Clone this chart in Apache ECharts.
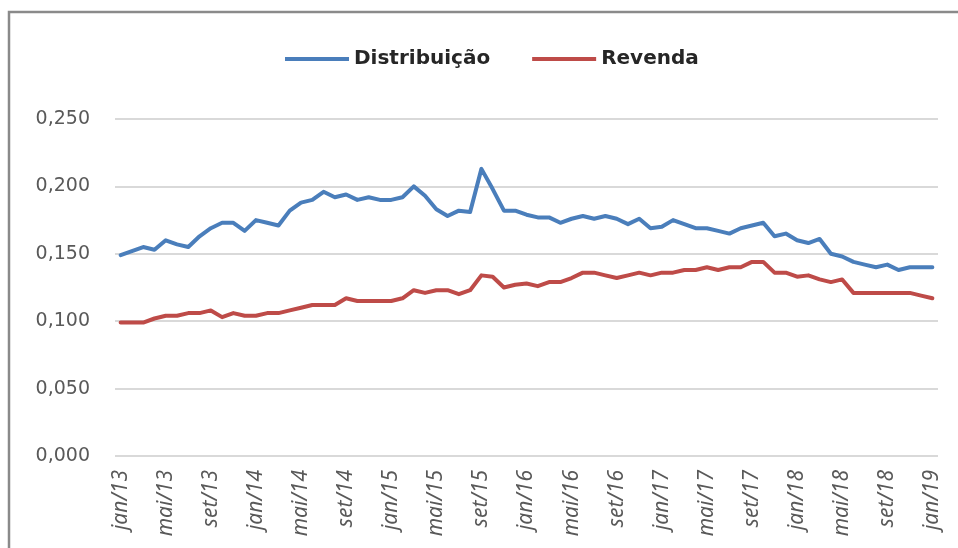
<!DOCTYPE html>
<html>
<head>
<meta charset="utf-8">
<script src="https://cdn.jsdelivr.net/npm/echarts@6/dist/echarts.min.js"></script>
<style>
html,body{margin:0;padding:0;background:#fff;}
#chart{width:958px;height:548px;}
</style>
</head>
<body>
<div id="chart"></div>
<script>
var monthNames = ['jan','fev','mar','abr','mai','jun','jul','ago','set','out','nov','dez'];
var years = ['13','14','15','16','17','18','19'];
var categories = [];
for (var y = 0; y < years.length; y++) {
  for (var m = 0; m < 12; m++) {
    categories.push(monthNames[m] + '/' + years[y]);
    if (y === years.length - 1) break;
  }
}

var distribuicao = [
  0.149, 0.152, 0.155, 0.153, 0.160, 0.157, 0.155, 0.163, 0.169, 0.173, 0.173, 0.167,
  0.175, 0.173, 0.171, 0.182, 0.188, 0.190, 0.196, 0.192, 0.194, 0.190, 0.192, 0.190,
  0.190, 0.192, 0.200, 0.193, 0.183, 0.178, 0.182, 0.181, 0.213, 0.198, 0.182, 0.182,
  0.179, 0.177, 0.177, 0.173, 0.176, 0.178, 0.176, 0.178, 0.176, 0.172, 0.176, 0.169,
  0.170, 0.175, 0.172, 0.169, 0.169, 0.167, 0.165, 0.169, 0.171, 0.173, 0.163, 0.165,
  0.160, 0.158, 0.161, 0.150, 0.148, 0.144, 0.142, 0.140, 0.142, 0.138, 0.140, 0.140,
  0.140
];

var revenda = [
  0.099, 0.099, 0.099, 0.102, 0.104, 0.104, 0.106, 0.106, 0.108, 0.103, 0.106, 0.104,
  0.104, 0.106, 0.106, 0.108, 0.110, 0.112, 0.112, 0.112, 0.117, 0.115, 0.115, 0.115,
  0.115, 0.117, 0.123, 0.121, 0.123, 0.123, 0.120, 0.123, 0.134, 0.133, 0.125, 0.127,
  0.128, 0.126, 0.129, 0.129, 0.132, 0.136, 0.136, 0.134, 0.132, 0.134, 0.136, 0.134,
  0.136, 0.136, 0.138, 0.138, 0.140, 0.138, 0.140, 0.140, 0.144, 0.144, 0.136, 0.136,
  0.133, 0.134, 0.131, 0.129, 0.131, 0.121, 0.121, 0.121, 0.121, 0.121, 0.121, 0.119,
  0.117
];

var seriesNames = ['Distribuição', 'Revenda'];
var yTicks = { min: 0, max: 0.25, interval: 0.05 };

var chart = echarts.init(document.getElementById('chart'), null, { renderer: 'canvas' });
chart.setOption({
  animation: false,
  backgroundColor: '#ffffff',
  color: ['#4A7EBB', '#BE4B48'],
  graphic: [{
    type: 'rect',
    shape: { x: 9, y: 12, width: 1000, height: 600 },
    style: { fill: 'none', stroke: '#8a8a8a', lineWidth: 2.5 },
    z: 100
  }],
  legend: {
    top: 44,
    left: 280,
    itemWidth: 64,
    itemHeight: 4,
    itemGap: 42,
    icon: 'rect',
    textStyle: { fontFamily: 'DejaVu Sans', fontWeight: 'bold', fontSize: 20, color: '#262626' },
    data: seriesNames
  },
  grid: { left: 115, right: 20, top: 119, bottom: 92, containLabel: false },
  xAxis: {
    type: 'category',
    data: categories,
    boundaryGap: true,
    axisLine: { show: false },
    axisTick: { show: false },
    axisLabel: {
      interval: 3,
      rotate: 90,
      margin: 14,
      fontFamily: 'Noto Sans',
      fontStyle: 'italic',
      fontSize: 21,
      color: '#595959'
    }
  },
  yAxis: {
    type: 'value',
    min: yTicks.min,
    max: yTicks.max,
    interval: yTicks.interval,
    axisLine: { show: false },
    axisTick: { show: false },
    splitLine: { show: true, lineStyle: { color: '#d9d9d9', width: 2 } },
    axisLabel: {
      margin: 25,
      fontFamily: 'DejaVu Sans',
      fontSize: 19,
      color: '#595959',
      formatter: function (v) { return v.toFixed(3).replace('.', ','); }
    }
  },
  series: [
    {
      name: seriesNames[0],
      type: 'line',
      data: distribuicao,
      showSymbol: false,
      symbol: 'none',
      lineStyle: { width: 4, join: 'round', cap: 'round' }
    },
    {
      name: seriesNames[1],
      type: 'line',
      data: revenda,
      showSymbol: false,
      symbol: 'none',
      lineStyle: { width: 4, join: 'round', cap: 'round' }
    }
  ]
});
</script>
</body>
</html>
